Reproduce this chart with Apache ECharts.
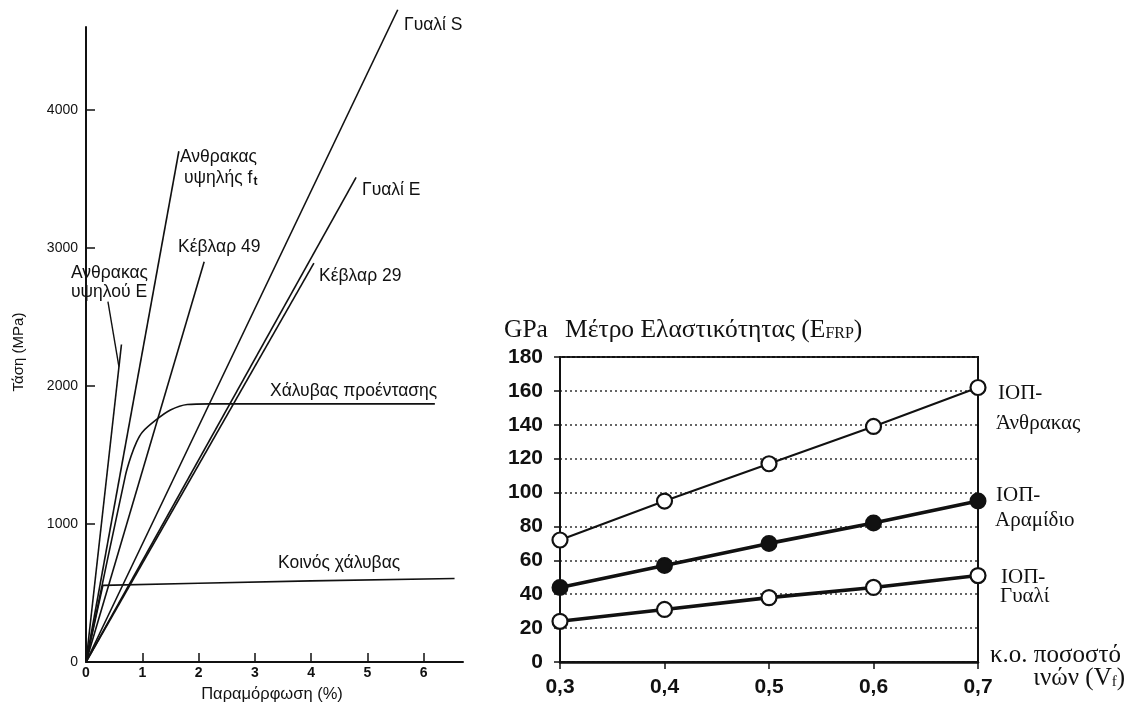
<!DOCTYPE html>
<html>
<head>
<meta charset="utf-8">
<script src="https://cdn.jsdelivr.net/npm/echarts@6/dist/echarts.min.js"></script>
<style>
html,body{margin:0;padding:0;background:#fff;}
#c{width:1128px;height:710px;}
</style>
</head>
<body>
<div id="c"></div>
<script>
// ---- Left chart: stress-strain (strain %, stress MPa) ----
const strainTicks = [0, 1, 2, 3, 4, 5, 6];
const stressTicks = [0, 1000, 2000, 3000, 4000];
const carbonHighE = [[0, 0], [0.63, 2300]];
const carbonHighELeader = [[0.39, 2610], [0.585, 2140]];
const carbonHighFt = [[0, 0], [1.65, 3700]];
const kevlar49 = [[0, 0], [2.10, 2900]];
const glassS = [[0, 0], [5.54, 4725]];
const glassE = [[0, 0], [4.80, 3510]];
const kevlar29 = [[0, 0], [4.05, 2890]];
const prestressSteel = [[0, 0], [0.7, 1350], [0.8, 1490], [0.9, 1595], [1.0, 1665], [1.25, 1755], [1.5, 1825], [1.8, 1865], [2.2, 1870], [6.2, 1870]];
const mildSteel = [[0, 0], [0.3, 555], [2, 570], [4, 588], [6.55, 605]];

// ---- Right chart: modulus vs fibre volume fraction ----
const vfCategories = ['0,3', '0,4', '0,5', '0,6', '0,7'];
const frpCarbon = [72, 95, 117, 139, 162];
const frpAramid = [44, 57, 70, 82, 95];
const frpGlass = [24, 31, 38, 44, 51];

const SANS = '"Liberation Sans", Arial, sans-serif';
const SERIF = '"Liberation Serif", "Times New Roman", serif';
const INK = '#111';

function lineSeries(data, extra) {
  return Object.assign({
    type: 'line', xAxisIndex: 0, yAxisIndex: 0, data: data,
    symbol: 'none', silent: true, clip: false,
    lineStyle: { color: INK, width: 1.6 }
  }, extra || {});
}

function txt(x, y, text, font, extra) {
  return {
    type: 'text', x: x, y: y, silent: true,
    style: Object.assign({
      text: text, font: font, fill: INK,
      textAlign: 'left', textVerticalAlign: 'middle'
    }, extra || {})
  };
}

const chart = echarts.init(document.getElementById('c'), null, { renderer: 'canvas' });

const lf = '17.5px ' + SANS;
const rf = '21px ' + SERIF;
const tf = '25.5px ' + SERIF;
const nf = '25px ' + SERIF;
const plain = v => String(v);

chart.setOption({
  backgroundColor: '#fff',
  animation: false,
  grid: [
    { left: 86, top: 27, width: 377, bottom: 48, show: false },
    { left: 560, top: 357, width: 418, bottom: 48, show: true, borderColor: INK, borderWidth: 2, backgroundColor: 'transparent' }
  ],
  xAxis: [
    {
      gridIndex: 0, type: 'value', min: 0, max: 6.7, interval: 1,
      axisLine: { show: true, lineStyle: { color: INK, width: 2 } },
      axisTick: { show: true, inside: true, length: 9, lineStyle: { color: INK, width: 1.5 }, customValues: strainTicks },
      axisLabel: { show: true, margin: 4, color: INK, fontFamily: SANS, fontSize: 14, fontWeight: 'bold', customValues: strainTicks, formatter: plain },
      splitLine: { show: false }
    },
    {
      gridIndex: 1, type: 'category', data: vfCategories, boundaryGap: false,
      axisLine: { show: true, lineStyle: { color: INK, width: 2.5 } },
      axisTick: { show: true, inside: false, length: 7, lineStyle: { color: INK, width: 1.5 } },
      axisLabel: { show: true, margin: 15, color: INK, fontFamily: SANS, fontSize: 21, fontWeight: 'bold' },
      splitLine: { show: false }
    }
  ],
  yAxis: [
    {
      gridIndex: 0, type: 'value', min: 0, max: 4600, interval: 1000,
      axisLine: { show: true, lineStyle: { color: INK, width: 2 } },
      axisTick: { show: true, inside: true, length: 9, lineStyle: { color: INK, width: 1.5 }, customValues: stressTicks },
      axisLabel: { show: true, margin: 8, color: INK, fontFamily: SANS, fontSize: 14, customValues: stressTicks, formatter: plain },
      splitLine: { show: false }
    },
    {
      gridIndex: 1, type: 'value', min: 0, max: 180, interval: 20,
      axisLine: { show: true, lineStyle: { color: INK, width: 2 } },
      axisTick: { show: true, inside: false, length: 6, lineStyle: { color: INK, width: 1.5 } },
      axisLabel: { show: true, margin: 17, color: INK, fontFamily: SANS, fontSize: 21, fontWeight: 'bold', formatter: plain },
      splitLine: { show: true, lineStyle: { color: '#333', width: 1.6, type: [2, 3] } }
    }
  ],
  series: [
    lineSeries(carbonHighE),
    lineSeries(carbonHighELeader, { lineStyle: { color: INK, width: 1.4 } }),
    lineSeries(carbonHighFt),
    lineSeries(kevlar49),
    lineSeries(glassS),
    lineSeries(glassE),
    lineSeries(kevlar29),
    lineSeries(prestressSteel, { smooth: 0.3 }),
    lineSeries(mildSteel),
    {
      type: 'line', xAxisIndex: 1, yAxisIndex: 1, data: frpCarbon, silent: true,
      symbol: 'circle', symbolSize: 15,
      lineStyle: { color: INK, width: 2 },
      itemStyle: { color: '#fff', borderColor: INK, borderWidth: 2.2 }
    },
    {
      type: 'line', xAxisIndex: 1, yAxisIndex: 1, data: frpAramid, silent: true,
      symbol: 'circle', symbolSize: 15,
      lineStyle: { color: INK, width: 3.6 },
      itemStyle: { color: INK, borderColor: INK, borderWidth: 2 }
    },
    {
      type: 'line', xAxisIndex: 1, yAxisIndex: 1, data: frpGlass, silent: true,
      symbol: 'circle', symbolSize: 15,
      lineStyle: { color: INK, width: 3.6 },
      itemStyle: { color: '#fff', borderColor: INK, borderWidth: 2.2 }
    }
  ],
  graphic: [
    // left chart annotations
    txt(404, 25, 'Γυαλί S', lf),
    txt(180, 157, 'Ανθρακας', lf),
    txt(184, 178, '{a|υψηλής f}{s|t}', lf, { rich: { a: { font: lf, fill: INK }, s: { font: 'bold 12px ' + SANS, fill: INK, padding: [8, 0, 0, 1] } } }),
    txt(362, 190, 'Γυαλί Ε', lf),
    txt(178, 247, 'Κέβλαρ 49', lf),
    txt(319, 276, 'Κέβλαρ 29', lf),
    txt(71, 273, 'Ανθρακας', lf),
    txt(71, 292, 'υψηλού Ε', lf),
    txt(270, 391, 'Χάλυβας προέντασης', lf),
    txt(278, 563, 'Κοινός χάλυβας', lf),
    txt(272, 694, 'Παραμόρφωση (%)', '16.5px ' + SANS, { textAlign: 'center' }),
    { type: 'text', x: 19, y: 352, rotation: Math.PI / 2, silent: true,
      style: { text: 'Τάση (MPa)', font: '15px ' + SANS, fill: INK, textAlign: 'center', textVerticalAlign: 'middle' } },
    // right chart texts
    txt(504, 330, 'GPa', tf),
    txt(565, 330, '{a|Μέτρο Ελαστικότητας (E}{s|FRP}{a|)}', tf, { rich: { a: { font: tf, fill: INK }, s: { font: '16px ' + SERIF, fill: INK, padding: [8, 0, 0, 0] } } }),
    txt(998, 393, 'ΙΟΠ-', rf),
    txt(996, 423, 'Άνθρακας', rf),
    txt(996, 495, 'ΙΟΠ-', rf),
    txt(995, 520, 'Αραμίδιο', rf),
    txt(1001, 577, 'ΙΟΠ-', rf),
    txt(1000, 596, 'Γυαλί', rf),
    txt(990, 655, 'κ.ο. ποσοστό', nf),
    txt(1125, 678, '{a|ινών (V}{s|f}{a|)}', nf, { textAlign: 'right', rich: { a: { font: nf, fill: INK }, s: { font: '15px ' + SERIF, fill: INK, padding: [8, 0, 0, 0] } } })
  ]
});
</script>
</body>
</html>
